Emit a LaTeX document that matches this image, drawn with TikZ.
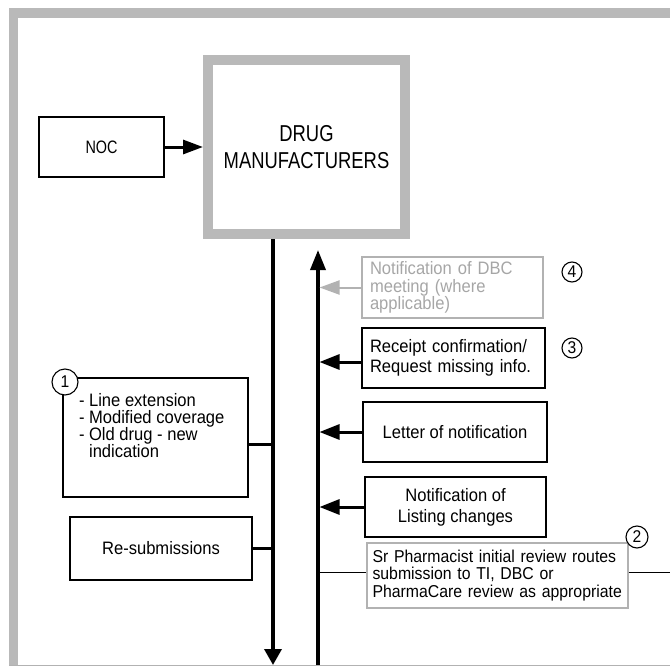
\documentclass[tikz,border=0pt]{standalone}
\usepackage{fontspec}
\setmainfont{Liberation Sans}[FakeStretch=0.92]
\newfontfamily\capfont{Liberation Sans}[FakeStretch=0.8]
\usetikzlibrary{arrows.meta,calc}
\begin{document}
\begin{tikzpicture}[x=1pt,y=-1pt,
  blackbox/.style={draw=black, line width=2.4pt, inner sep=0pt, align=center,
    font=\fontsize{18}{21}\selectfont},
  graybox/.style={draw=gray!60, line width=1.2pt, inner ysep=0pt, align=left,
    font=\fontsize{18}{17.5}\selectfont},
  num/.style={circle, draw=black, line width=1.1pt, fill=white, inner sep=0pt,
    minimum size=20pt, font=\fontsize{17}{17}\selectfont},
  mainline/.style={line width=3.5pt},
  feed/.style={line width=3pt, shorten >=1.5pt, -{Triangle[length=20pt,width=15pt]}},
  grayfeed/.style={draw=gray!60, line width=2pt, shorten >=1.5pt,
    -{Triangle[length=20pt,width=14pt]}},
  joint/.style={line width=3pt},
  thinline/.style={line width=1.2pt}]
\useasboundingbox (0,0) rectangle (670,667);
% outer frame
\fill[gray!55] (9,8) rectangle (670,18);
\fill[gray!55] (9,8) rectangle (18,665);
\draw[gray!60, line width=1pt] (9,665) -- (670,665);
% coordinates
\coordinate (downx) at (273,665);
\coordinate (upx) at (318,665);
\coordinate (uptip) at (318,250);
\coordinate (rightedge) at (670,572);
% main nodes
\node[blackbox, minimum width=125pt, minimum height=60pt,
  font=\capfont\fontsize{18}{21}\selectfont] (noc) at (101.5,147) {NOC};
\node[draw=gray!55, line width=10pt, minimum width=197pt, minimum height=174pt,
  align=center, font=\capfont\fontsize{23}{27}\selectfont] (drug) at (306.5,147)
  {DRUG\\MANUFACTURERS};
\draw[line width=3pt, -{Triangle[length=20pt,width=14pt]}] (noc.east) -- (drug.west);
% vertical lines
\draw[mainline, -{Triangle[length=16pt,width=17pt]}] (drug.south -| downx) -- (downx);
\draw[mainline, -{Triangle[length=20pt,width=15pt]}] (upx) -- (uptip);
% right column
\node[graybox, text width=165pt, inner xsep=8pt, minimum height=61pt, text=gray!70]
  (dbc) at (452.5,287.5) {Notification of DBC\\meeting (where\\applicable)};
\node[num] (c4) at (572,272) {4};
\draw[grayfeed] (dbc.west) -- (dbc.west -| upx);
\node[blackbox, text width=167pt, inner xsep=8pt, minimum height=60pt, align=left,
  font=\fontsize{18}{20}\selectfont]
  (rec) at (453.5,358) {Receipt confirmation/\\Request missing info.};
\node[num] (c3) at (572,348) {3};
\draw[feed] ([yshift=-4pt]rec.west) -- ([yshift=-4pt]rec.west -| upx);
\node[blackbox, minimum width=184pt, minimum height=60pt] (let) at (455,432)
  {Letter of notification};
\draw[feed] (let.west) -- (let.west -| upx);
\node[blackbox, minimum width=181pt, minimum height=60pt] (lst) at (455.5,507)
  {Notification of\\Listing changes};
\draw[feed] (lst.west) -- (lst.west -| upx);
\node[graybox, text width=250pt, inner xsep=5.5pt, minimum height=65pt,
  font=\fontsize{17.2}{17.5}\selectfont]
  (sr) at (497.5,575.5)
  {Sr Pharmacist initial review routes\\submission to TI, DBC or\\PharmaCare review as appropriate};
\node[num, minimum size=22pt] (c2) at (637,537) {2};
\draw[thinline] ([yshift=3pt]sr.west -| upx) -- ([yshift=3pt]sr.west);
\draw[thinline] ([yshift=3pt]sr.east) -- ([yshift=3pt]sr.east -| rightedge);
% left column
\node[blackbox, minimum width=185pt, minimum height=119pt] (b1) at (155.5,437.5) {};
\node[anchor=north west, inner sep=0pt, align=left, font=\fontsize{18}{17.3}\selectfont]
  (b1text) at ([shift={(17,16)}]b1.north west)
  {- Line extension\\- Modified coverage\\- Old drug - new\\\hphantom{- }indication};
\node[num, minimum size=26pt] (c1) at (65,382) {1};
\draw[joint] ([yshift=-7pt]b1.east) -- ([yshift=-7pt]b1.east -| downx);
\node[blackbox, minimum width=182pt, minimum height=63pt] (rs) at (161,548.5)
  {Re-submissions};
\draw[joint] (rs.east) -- (rs.east -| downx);
\end{tikzpicture}
\end{document}
